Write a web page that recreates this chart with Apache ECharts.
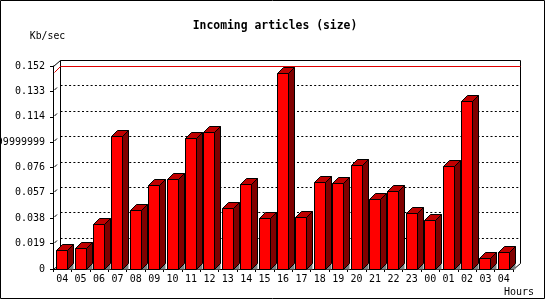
<!DOCTYPE html>
<html>
<head>
<meta charset="utf-8">
<script src="https://cdn.jsdelivr.net/npm/echarts@6/dist/echarts.min.js"></script>
<style>
html,body{margin:0;padding:0;background:#fff;}
#c{width:550px;height:300px;}
</style>
</head>
<body>
<div id="c"></div>
<script>
var hours = ['04','05','06','07','08','09','10','11','12','13','14','15','16','17','18','19','20','21','22','23','00','01','02','03','04'];
var sizes = [0.0139, 0.0159, 0.0339, 0.0993, 0.0445, 0.0632, 0.0677, 0.0978, 0.1023, 0.0460, 0.0640, 0.0385, 0.1466, 0.0392, 0.0655, 0.0647, 0.0775, 0.0527, 0.0587, 0.0422, 0.0369, 0.0768, 0.1256, 0.0081, 0.0129];
var yTickLabels = ['0','0.019','0.038','0.057','0.076','0.09499999999','0.114','0.133','0.152'];
var gridValues = [0.019, 0.038, 0.057, 0.076, 0.095, 0.114, 0.133];
var titleText = 'Incoming articles (size)';
var yName = 'Kb/sec';
var xName = 'Hours';

var DX = 7, DY = 6, BD = 6, BW = 11;
var FONT = '"DejaVu Sans Mono", "Liberation Mono", monospace';

var chart = echarts.init(document.getElementById('c'), null, {renderer: 'canvas'});

function ln(x1, y1, x2, y2, style) {
  return {type: 'line', shape: {x1: x1, y1: y1, x2: x2, y2: y2},
    style: Object.assign({stroke: '#000', lineWidth: 1}, style || {})};
}

var option = {
  backgroundColor: '#fff',
  animation: false,
  grid: {left: 53, top: 66, width: 460, height: 203, containLabel: false, outerBoundsMode: 'none'},
  xAxis: {
    type: 'category', data: hours, boundaryGap: true,
    axisLine: {show: true, lineStyle: {color: '#000', width: 1}},
    axisTick: {show: true, length: 3, alignWithLabel: false, lineStyle: {color: '#000'}},
    axisLabel: {color: '#000', fontFamily: FONT, fontSize: 10, margin: 5, interval: 0, hideOverlap: false},
    splitLine: {show: false}
  },
  yAxis: {
    type: 'value', min: 0, max: 0.152, interval: 0.019,
    axisLine: {show: true, lineStyle: {color: '#000', width: 1}},
    axisTick: {show: true, length: 3, lineStyle: {color: '#000'}},
    axisLabel: {color: '#000', fontFamily: FONT, fontSize: 10, margin: 8, hideOverlap: false,
      formatter: function (v, i) { return yTickLabels[i]; }},
    splitLine: {show: false}
  },
  graphic: [
    {type: 'rect', shape: {x: 0.5, y: 0.5, width: 544, height: 298}, style: {fill: null, stroke: '#000', lineWidth: 1}, z: 100},
    {type: 'text', style: {text: titleText, x: 275, y: 26.5, align: 'center', verticalAlign: 'middle', fill: '#000', font: 'bold 11.4px ' + FONT}},
    {type: 'text', style: {text: yName, x: 47.5, y: 36.5, align: 'center', verticalAlign: 'middle', fill: '#000', font: '9.8px ' + FONT}},
    {type: 'text', style: {text: xName, x: 519, y: 292.5, align: 'center', verticalAlign: 'middle', fill: '#000', font: '10px ' + FONT}}
  ],
  series: [
    {
      type: 'custom', clip: false, z: 1,
      data: gridValues.map(function (v) { return [0, v]; }),
      renderItem: function (params, api) {
        var cs = params.coordSys;
        var y = Math.round(api.coord([0, api.value(1)])[1]) + 0.5;
        var xl = cs.x + 0.5, xr = cs.x + cs.width + 0.5;
        var children = [
          ln(xl + DX, y - DY, xr + DX, y - DY, {lineDash: [2, 2.3]}),
          ln(xl + 1, y - 1.5, xl + 3.5, y - 4)
        ];
        if (params.dataIndex === 0) {
          var top = cs.y + 0.5, bot = cs.y + cs.height + 0.5;
          children.push(ln(xl + DX, top - DY, xr + DX, top - DY));
          children.push(ln(xl + DX, top - DY, xl + DX, bot - DY));
          children.push(ln(xr + DX, top - DY, xr + DX, bot - DY));
          children.push(ln(xl, top, xl + DX, top - DY));
          children.push(ln(xl, bot, xl + DX, bot - DY));
          children.push(ln(xr, bot, xr + DX, bot - DY));
        }
        return {type: 'group', children: children};
      }
    },
    {
      type: 'custom', clip: false, z: 2,
      data: [[0, Math.max.apply(null, sizes)]],
      renderItem: function (params, api) {
        var cs = params.coordSys;
        var y = Math.round(api.coord([0, api.value(1)])[1]) + 0.5;
        var xl = cs.x + 0.5, xr = cs.x + cs.width + 0.5;
        return {type: 'group', children: [
          ln(xl + DX, y - DY - 1, xr + DX, y - DY - 1, {stroke: '#e00000'}),
          ln(xl + 1, y - 1, xl + DX, y - DY - 1, {stroke: '#e00000'})
        ]};
      }
    },
    {
      type: 'custom', clip: false, z: 3,
      data: sizes.map(function (v, i) { return [i, v]; }),
      renderItem: function (params, api) {
        var p = api.coord([api.value(0), api.value(1)]);
        var b = api.coord([api.value(0), 0]);
        var cx = Math.round(p[0]);
        var xl = cx - 5.5, xr = xl + BW;
        var yt = Math.round(p[1]) + 0.5, yb = Math.round(b[1]) + 0.5;
        return {type: 'group', children: [
          {type: 'polygon', shape: {points: [[xr, yb], [xr + BD, yb - BD], [xr + BD, yb]]},
            style: {fill: '#808080', stroke: null}},
          {type: 'polygon', shape: {points: [[xr, yt], [xr + BD, yt - BD], [xr + BD, yb - BD], [xr, yb]]},
            style: {fill: '#800000', stroke: '#000', lineWidth: 1}},
          {type: 'polygon', shape: {points: [[xl, yt], [xl + BD, yt - BD], [xr + BD, yt - BD], [xr, yt]]},
            style: {fill: '#c00000', stroke: '#000', lineWidth: 1}},
          {type: 'rect', shape: {x: xl, y: yt, width: BW, height: yb - yt},
            style: {fill: '#ff0000', stroke: '#000', lineWidth: 1}}
        ]};
      }
    }
  ]
};
chart.setOption(option);
</script>
</body>
</html>
